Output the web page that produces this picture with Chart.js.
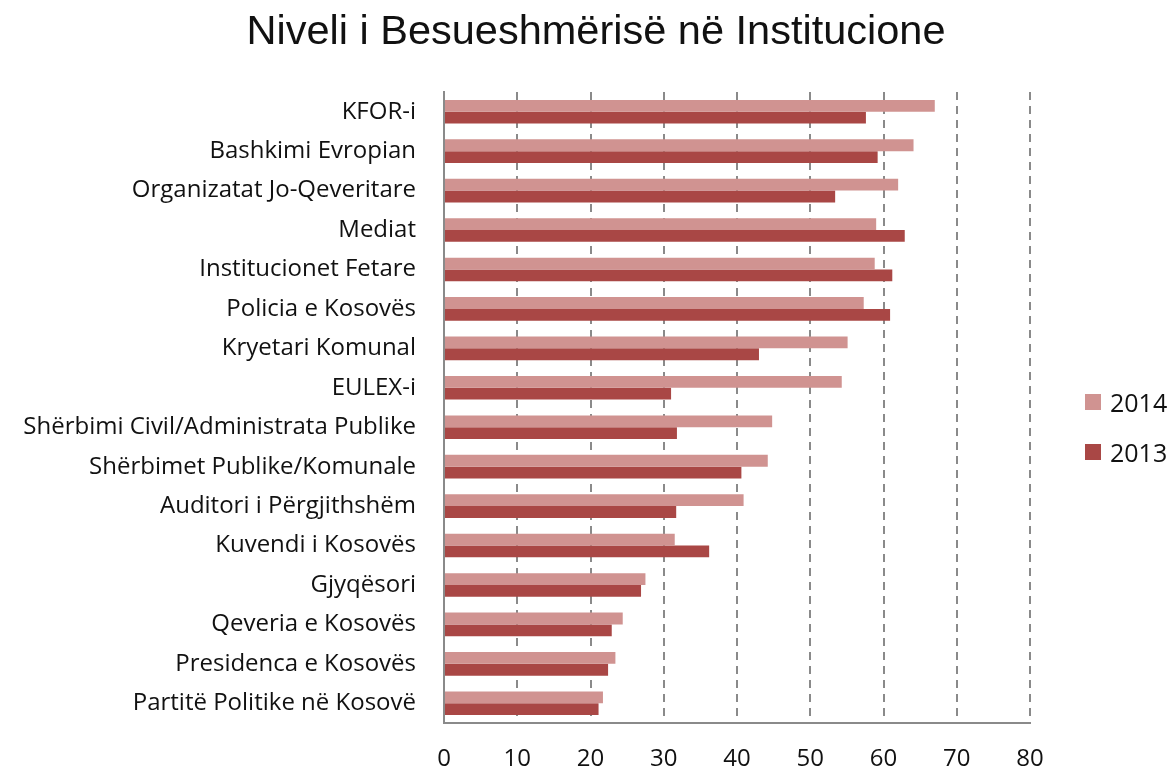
<!DOCTYPE html>
<html>
<head>
<meta charset="utf-8">
<script src="https://cdn.jsdelivr.net/npm/chart.js@4.4.0/dist/chart.umd.min.js"></script>
<style>
  html, body { margin: 0; padding: 0; background: #fff; }
  #wrap { position: relative; width: 1173px; height: 767px; }
  #legend { position: absolute; left: 1085px; top: 386px; font-family: 'Open Sans', sans-serif; font-size: 25px; color: #111; }
  #legend .item { display: flex; align-items: center; height: 32px; margin-bottom: 18px; }
  #legend .box { width: 16px; height: 16px; margin-right: 9px; }
</style>
</head>
<body>
<div id="wrap">
  <canvas id="trustChart" width="1173" height="767"></canvas>
  <div id="legend"></div>
</div>
<script>
// institutions, top to bottom
const institutions = [
    "KFOR-i",
    "Bashkimi Evropian",
    "Organizatat Jo-Qeveritare",
    "Mediat",
    "Institucionet Fetare",
    "Policia e Kosovës",
    "Kryetari Komunal",
    "EULEX-i",
    "Shërbimi Civil/Administrata Publike",
    "Shërbimet Publike/Komunale",
    "Auditori i Përgjithshëm",
    "Kuvendi i Kosovës",
    "Gjyqësori",
    "Qeveria e Kosovës",
    "Presidenca e Kosovës",
    "Partitë Politike në Kosovë"
];

const trust2014 = [67.0, 64.1, 62.0, 59.0, 58.8, 57.3, 55.1, 54.3, 44.8, 44.2, 40.9, 31.5, 27.5, 24.4, 23.4, 21.7];
const trust2013 = [57.6, 59.2, 53.4, 62.9, 61.2, 60.9, 43.0, 31.0, 31.8, 40.6, 31.7, 36.2, 26.9, 22.9, 22.4, 21.1];

const xTicks = [0, 10, 20, 30, 40, 50, 60, 70, 80];

const LABEL_FONT = "'Open Sans', 'Liberation Sans', sans-serif";
const TITLE_FONT = "'Liberation Sans', Arial, sans-serif";

// simple html legend, same order as the datasets
function renderLegend(datasets) {
    const legend = document.getElementById("legend");
    legend.innerHTML = "";
    datasets.forEach(ds => {
        const item = document.createElement("div");
        item.className = "item";
        const box = document.createElement("span");
        box.className = "box";
        box.style.background = ds.backgroundColor;
        const text = document.createElement("span");
        text.textContent = ds.label;
        item.appendChild(box);
        item.appendChild(text);
        legend.appendChild(item);
    });
}

function init() {
    const ctx = document.getElementById("trustChart").getContext("2d");

    const datasets = [
        {
            label: "2014",
            data: trust2014,
            backgroundColor: "#D09391",
            borderWidth: 0
        },
        {
            label: "2013",
            data: trust2013,
            backgroundColor: "#A94745",
            borderWidth: 0
        }
    ];

    new Chart(ctx, {
        type: "bar",
        data: {
            labels: institutions,
            datasets: datasets
        },
        options: {
            indexAxis: "y",
            responsive: false,
            animation: false,
            categoryPercentage: 0.6,
            barPercentage: 1.0,
            // left padding nudges the title to the right, as in the original
            layout: { padding: { left: 19, right: 0, top: 0, bottom: 0 } },
            plugins: {
                title: {
                    display: true,
                    text: "Niveli i Besueshmërisë në Institucione",
                    color: "#111",
                    font: { family: TITLE_FONT, size: 41.5, weight: "normal" },
                    padding: { top: 7.6, bottom: 34.6 }
                },
                legend: { display: false },
                tooltip: { enabled: false }
            },
            scales: {
                x: {
                    min: 0,
                    max: 80,
                    afterBuildTicks: scale => {
                        scale.ticks = xTicks.map(v => ({ value: v }));
                    },
                    afterFit: scale => { scale.height = 44; },
                    border: { display: true, color: "#8a8a8a", width: 2, dash: [8, 6] },
                    grid: {
                        color: ctx => ctx.tick && ctx.tick.value === 0 ? "rgba(0,0,0,0)" : "#8a8a8a",
                        lineWidth: 2,
                        drawTicks: false
                    },
                    ticks: {
                        color: "#111",
                        padding: 22,
                        font: { family: LABEL_FONT, size: 24 }
                    }
                },
                y: {
                    afterFit: scale => { scale.width = 425; },
                    border: { display: true, color: "#8a8a8a", width: 2 },
                    grid: { display: false, drawTicks: false },
                    ticks: {
                        color: "#111",
                        padding: 28,
                        autoSkip: false,
                        font: { family: LABEL_FONT, size: 24 }
                    }
                },
                // empty right-hand axis, keeps room for the legend
                yRight: {
                    type: "category",
                    position: "right",
                    afterFit: scale => { scale.width = 143; },
                    border: { display: false },
                    grid: { display: false, drawTicks: false },
                    ticks: { display: false }
                }
            }
        }
    });

    renderLegend(datasets);
}

window.addEventListener("DOMContentLoaded", init);
</script>
</body>
</html>
